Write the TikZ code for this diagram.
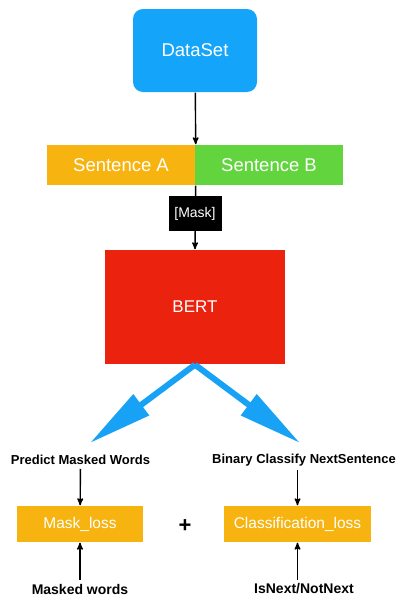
\documentclass[tikz,border=0pt]{standalone}
\usepackage{fontspec}
\setmainfont{Liberation Sans}
\usetikzlibrary{arrows,arrows.meta}
\definecolor{dsblue}{RGB}{20,164,250}
\definecolor{senta}{RGB}{247,180,16}
\definecolor{sentb}{RGB}{98,212,62}
\definecolor{bertred}{RGB}{235,34,14}
\definecolor{bigblue}{RGB}{24,162,246}
\begin{document}
\begin{tikzpicture}[x=1pt,y=-1pt,->,>=stealth',line width=1.4pt,
  box/.style={inner sep=0pt,text=white,font=\fontsize{#1}{#1}\selectfont},
  lbl/.style={font=\fontsize{#1}{#1}\selectfont\bfseries},
  big/.style={-{Triangle[length=64pt,width=25pt]},line width=6pt,bigblue}]
\useasboundingbox (0,0) rectangle (397,597);
\node[box=18.5,fill=dsblue,rounded corners=10pt,minimum width=124pt,minimum height=83pt](ds) at (195,50.5) {DataSet};
\node[box=18.5,fill=senta,minimum width=148pt,minimum height=40pt](sa) at (121,165) {Sentence A};
\node[box=18.5,fill=sentb,minimum width=148pt,minimum height=40pt](sb) at (269,165) {Sentence B};
\node[box=17,fill=bertred,minimum width=180pt,minimum height=114pt](bert) at (195,307) {BERT};
\draw (ds) -- (sa.north east);
\draw (sa.south east) -- (bert.north);
\node[box=14,fill=black,minimum width=53pt,minimum height=35pt](mask) at (195,213.5) {[Mask]};
\coordinate (tl) at (90,443);
\coordinate (tr) at (300,443);
\draw[big] (bert.south) -- (tl);
\draw[big] (bert.south) -- (tr);
\node[lbl=13](pm) at (80.5,460) {Predict Masked Words};
\node[lbl=13](bc) at (304,460) {Binary Classify NextSentence};
\node[box=15.5,fill=senta,minimum width=126pt,minimum height=36pt](ml) at (80,524) {Mask\_loss};
\node[box=15.5,fill=senta,minimum width=147pt,minimum height=36pt](cl) at (297.5,524) {Classification\_loss};
\node[lbl=22](plus) at (185,526) {+};
\node[lbl=14](mw) at (80,589) {Masked words};
\node[lbl=14](nx) at (304,589) {IsNext/NotNext};
\draw (pm) -- (ml);
\draw (bc.south -| cl) -- (cl);
\draw (mw) -- (ml);
\draw (nx.north -| cl) -- (cl);
\end{tikzpicture}
\end{document}
